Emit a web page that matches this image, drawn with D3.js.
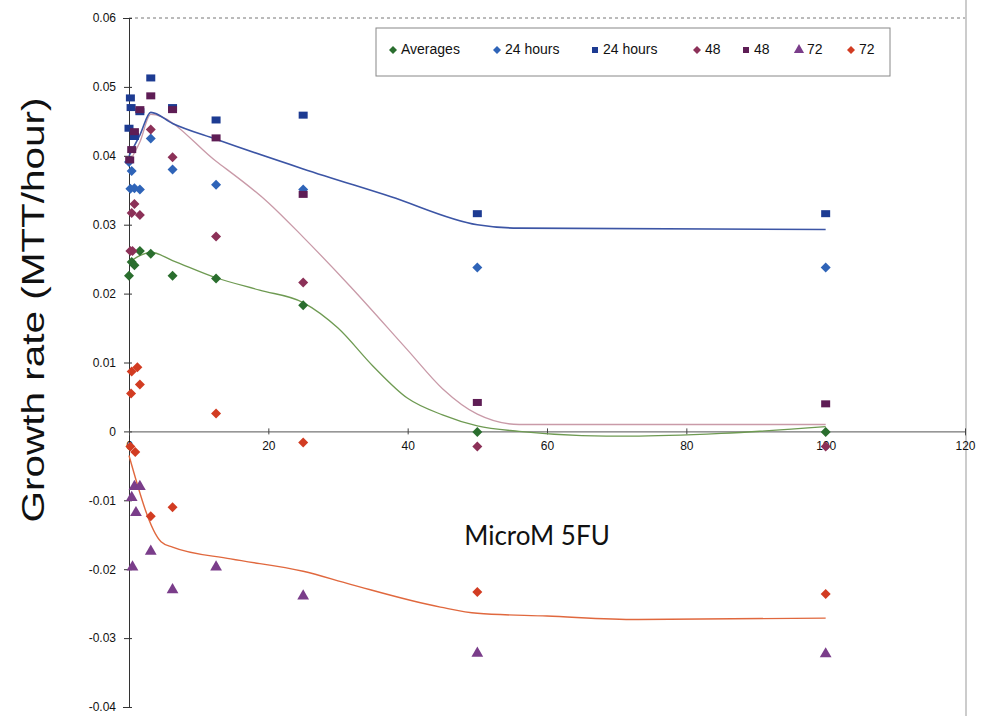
<!DOCTYPE html>
<html>
<head>
<meta charset="utf-8">
<script src="https://cdn.jsdelivr.net/npm/d3@7"></script>
<style>
  html, body { margin: 0; padding: 0; background: #fff; }
  svg { display: block; }
</style>
</head>
<body>
<svg id="chart" width="985" height="716"></svg>
<script>
// ---------- DATA ----------
const xTicks = [0, 20, 40, 60, 80, 100, 120];
const yTicks = [-0.04, -0.03, -0.02, -0.01, 0, 0.01, 0.02, 0.03, 0.04, 0.05, 0.06];
const yTickLabels = ["-0.04", "-0.03", "-0.02", "-0.01", "0", "0.01", "0.02", "0.03", "0.04", "0.05", "0.06"];

// scatter series: [dose, growth rate]
const averages = [[0, 0.0226], [0.39, 0.0246], [0.78, 0.0241], [1.56, 0.0262], [3.125, 0.0258], [6.25, 0.0226], [12.5, 0.0222], [25, 0.0183], [50, -0.0001], [100, -0.0001]];
const h24Diamond = [[0, 0.0391], [0.39, 0.0378], [0.2, 0.0352], [0.78, 0.0353], [1.56, 0.0351], [3.125, 0.0425], [6.25, 0.0380], [12.5, 0.0358], [25, 0.0351], [50, 0.0238], [100, 0.0238]];
const h24Square = [[0.2, 0.0484], [0.3, 0.0470], [1.56, 0.0464], [0, 0.0440], [0.78, 0.0428], [3.125, 0.0513], [6.25, 0.0470], [12.5, 0.0452], [25, 0.0459], [50, 0.0316], [100, 0.0316]];
const h48Diamond = [[0.78, 0.0330], [0.39, 0.0317], [1.56, 0.0314], [0.2, 0.0262], [0.5, 0.0262], [3.125, 0.0438], [6.25, 0.0398], [12.5, 0.0283], [25, 0.0216], [50, -0.0022], [100, -0.0022]];
const h48Square = [[1.56, 0.0467], [0.39, 0.0409], [0.1, 0.0394], [0.78, 0.0435], [3.125, 0.0487], [6.25, 0.0467], [12.5, 0.0426], [25, 0.0344], [50, 0.0042], [100, 0.0040]];
const h72Triangle = [[0.78, -0.0080], [1.56, -0.0080], [0.39, -0.0096], [1.0, -0.0118], [0.5, -0.0197], [3.125, -0.0174], [6.25, -0.0230], [12.5, -0.0197], [25, -0.0239], [50, -0.0322], [100, -0.0323]];
const h72Diamond = [[0.39, 0.0087], [1.2, 0.0093], [1.56, 0.0068], [0.3, 0.0055], [0.2, -0.0022], [0.9, -0.0030], [3.125, -0.0123], [6.25, -0.0110], [12.5, 0.0026], [25, -0.0016], [50, -0.0233], [100, -0.0236]];

// fitted curves: [dose, growth rate]
const fit24 = [[0, 0.0400], [1.56, 0.0430], [3.125, 0.0463], [6.25, 0.0447], [12.5, 0.0424], [25, 0.0381], [37.5, 0.0341], [50, 0.0300], [56, 0.0295], [100, 0.0293]];
const fit48 = [[0, 0.0390], [1.56, 0.0420], [3.125, 0.0460], [12.5, 0.0392], [20, 0.0332], [25, 0.0282], [31.8, 0.0210], [40, 0.0118], [45, 0.0062], [50, 0.0025], [56, 0.0010], [100, 0.0010]];
const fitAvg = [[0, 0.0245], [1.56, 0.0255], [3.125, 0.0260], [6.25, 0.0248], [12.5, 0.0223], [18.75, 0.0205], [25, 0.0187], [30, 0.0150], [35, 0.0095], [40, 0.0048], [45, 0.0024], [50, 0.0008], [56, 0.0000], [65, -0.0006], [72, -0.0007], [85, -0.0003], [100, 0.0007]];
const fit72 = [[0, -0.0035], [4.6, -0.0160], [6.25, -0.0168], [14.6, -0.0185], [25, -0.0203], [31.8, -0.0222], [44.7, -0.0255], [50, -0.0264], [60, -0.0268], [73, -0.0273], [100, -0.0271]];

const legendLabels = ["Averages", "24 hours", "24 hours", "48", "48", "72", "72"];

// ---------- DRAW ----------
const svg = d3.select("#chart");
svg.append("rect").attr("width", 985).attr("height", 716).attr("fill", "#fff");

const x = d3.scaleLinear().domain([0, 120]).range([129, 965]);
const y = d3.scaleLinear().domain([-0.04, 0.06]).range([707, 18]);

// plot border (top dotted + right)
svg.append("line").attr("x1", x(0)).attr("x2", x(120)).attr("y1", y(0.06)).attr("y2", y(0.06))
  .attr("stroke", "#777").attr("stroke-width", 1).attr("stroke-dasharray", "3,3");
svg.append("line").attr("x1", x(120) + 1).attr("x2", x(120) + 1).attr("y1", 0).attr("y2", 716)
  .attr("stroke", "#999").attr("stroke-width", 1);

// Y axis
const yAxis = d3.axisLeft(y).tickValues(yTicks).tickSize(6).tickPadding(8)
  .tickFormat((d, i) => yTickLabels[i]);
const gy = svg.append("g").attr("transform", `translate(${x(0)},0)`).call(yAxis);
gy.select(".domain").attr("stroke", "#333");
gy.selectAll(".tick line").attr("stroke", "#333").attr("x2", 3).attr("x1", -5);
gy.selectAll(".tick text").attr("font-family", "Liberation Sans, Arial, sans-serif")
  .attr("font-size", 12).attr("fill", "#111").attr("x", -13);

// X axis at y=0
const xAxis = d3.axisBottom(x).tickValues(xTicks).tickSize(4).tickPadding(6).tickFormat(d3.format("d"));
const gx = svg.append("g").attr("transform", `translate(0,${y(0)})`).call(xAxis);
gx.select(".domain").attr("stroke", "#555");
gx.selectAll(".tick line").attr("stroke", "#444").attr("y1", -3).attr("y2", 3);
gx.selectAll(".tick text").attr("font-family", "Liberation Sans, Arial, sans-serif")
  .attr("font-size", 12).attr("fill", "#111");

// axis titles
svg.append("text").attr("transform", `translate(44,${310}) rotate(-90)`)
  .attr("text-anchor", "middle").attr("font-family", "Liberation Sans, Arial, sans-serif")
  .attr("font-size", 31).attr("fill", "#111")
  .attr("textLength", 425).attr("lengthAdjust", "spacingAndGlyphs")
  .text("Growth rate (MTT/hour)");
svg.append("text").attr("x", 537).attr("y", 545).attr("text-anchor", "middle")
  .attr("font-family", "Lato, 'Open Sans', sans-serif").attr("font-size", 26).attr("fill", "#111")
  .text("MicroM 5FU");

// fitted lines
const line = d3.line().x(d => x(d[0])).y(d => y(d[1])).curve(d3.curveMonotoneX);
const fits = [
  { data: fit48, color: "#c99aa8", w: 1.3 },
  { data: fitAvg, color: "#6e9a52", w: 1.3 },
  { data: fit24, color: "#3c55a5", w: 1.6 },
  { data: fit72, color: "#e0683e", w: 1.4 }
];
fits.forEach(f => {
  svg.append("path").datum(f.data).attr("d", line).attr("fill", "none")
    .attr("stroke", f.color).attr("stroke-width", f.w);
});

// marker drawers
const diamondPath = "M0,-5L5,0L0,5L-5,0Z";
const triPath = d3.symbol().type(d3.symbolTriangle).size(60)();
function drawMarkers(data, kind, color) {
  const g = svg.append("g");
  const sel = g.selectAll("g").data(data).enter().append("g")
    .attr("transform", d => `translate(${x(d[0])},${y(d[1])})`);
  if (kind === "diamond") sel.append("path").attr("d", diamondPath).attr("fill", color);
  else if (kind === "square") sel.append("rect").attr("x", -4.5).attr("y", -3.5).attr("width", 9).attr("height", 7).attr("fill", color);
  else sel.append("path").attr("d", triPath).attr("fill", color);
}

const seriesStyles = [
  { data: averages, kind: "diamond", color: "#2a6e2e" },
  { data: h24Diamond, kind: "diamond", color: "#2f64b8" },
  { data: h24Square, kind: "square", color: "#1d3b92" },
  { data: h48Diamond, kind: "diamond", color: "#8c3158" },
  { data: h48Square, kind: "square", color: "#5e1d55" },
  { data: h72Triangle, kind: "triangle", color: "#7a3d8a" },
  { data: h72Diamond, kind: "diamond", color: "#d23c22" }
];
seriesStyles.forEach(s => drawMarkers(s.data, s.kind, s.color));

// legend
const lg = svg.append("g");
lg.append("rect").attr("x", 376).attr("y", 28).attr("width", 514).attr("height", 48)
  .attr("fill", "#fff").attr("stroke", "#888").attr("stroke-width", 1);
const legendX = [393, 497, 595, 697, 746, 799, 851];
seriesStyles.forEach((s, i) => {
  const gi = lg.append("g").attr("transform", `translate(${legendX[i]},${50})`);
  if (s.kind === "diamond") gi.append("path").attr("d", "M0,-4L4,0L0,4L-4,0Z").attr("fill", s.color);
  else if (s.kind === "square") gi.append("rect").attr("x", -3).attr("y", -3).attr("width", 6).attr("height", 6).attr("fill", s.color);
  else gi.append("path").attr("d", d3.symbol().type(d3.symbolTriangle).size(45)()).attr("fill", s.color);
  gi.append("text").attr("x", 8).attr("y", -1).attr("dy", "0.35em")
    .attr("font-family", "Liberation Sans, Arial, sans-serif").attr("font-size", 14)
    .attr("fill", "#111").text(legendLabels[i]);
});
</script>
</body>
</html>
